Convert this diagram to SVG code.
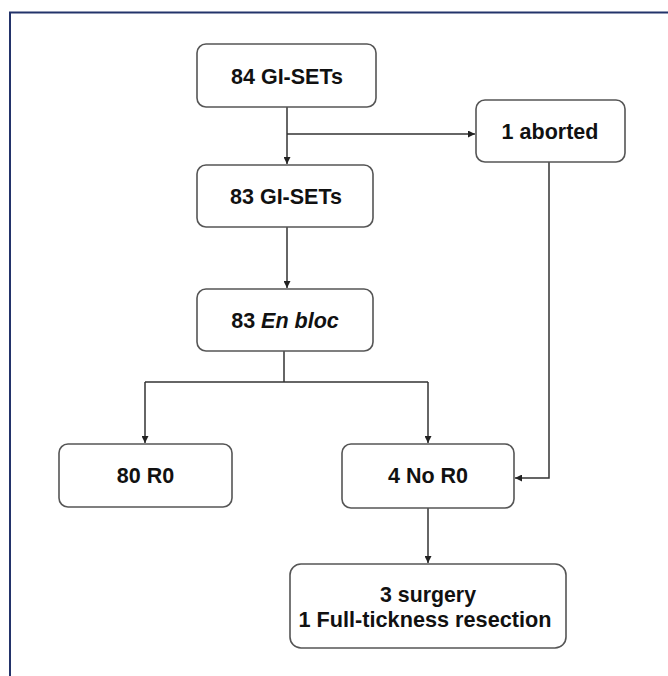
<svg xmlns="http://www.w3.org/2000/svg" width="668" height="676" viewBox="0 0 668 676">
<style>
.box{fill:#fff;stroke:#555;stroke-width:1.6}
.t{font-family:"Liberation Sans",Arial,sans-serif;font-weight:bold;font-size:21.5px;fill:#111;text-anchor:middle}
.c{fill:none;stroke:#333;stroke-width:1.5}
</style>
<defs>
<marker id="ah" viewBox="0 0 10 10" refX="10" refY="5" markerWidth="7" markerHeight="7" markerUnits="userSpaceOnUse" orient="auto">
<path d="M0,0 L10,5 L0,10 z" fill="#222"/>
</marker>
</defs>
<rect width="668" height="676" fill="#fff"/>
<path d="M10,680 V12.5 H672" fill="none" stroke="#23336a" stroke-width="2"/>
<g id="connectors">
<path class="c" d="M287,107 V164" marker-end="url(#ah)"/>
<path class="c" d="M287,134 H475" marker-end="url(#ah)"/>
<path class="c" d="M287,227 V288" marker-end="url(#ah)"/>
<path class="c" d="M284,351 V382"/>
<path class="c" d="M145,382 H428"/>
<path class="c" d="M145,382 V443" marker-end="url(#ah)"/>
<path class="c" d="M428,382 V443" marker-end="url(#ah)"/>
<path class="c" d="M549,162 V478 H515" marker-end="url(#ah)"/>
<path class="c" d="M428,508 V563" marker-end="url(#ah)"/>
</g>
<g id="n84">
<rect class="box" x="197" y="44" width="179" height="63" rx="9"/>
<text class="t" x="287" y="84">84 GI-SETs</text>
</g>
<g id="aborted">
<rect class="box" x="476" y="100" width="149" height="62" rx="9"/>
<text class="t" x="550" y="139">1 aborted</text>
</g>
<g id="n83">
<rect class="box" x="197" y="165" width="176" height="62" rx="9"/>
<text class="t" x="286" y="204">83 GI-SETs</text>
</g>
<g id="enbloc">
<rect class="box" x="197" y="289" width="176" height="62" rx="9"/>
<text class="t" x="285" y="328">83 <tspan font-style="italic">En bloc</tspan></text>
</g>
<g id="r0">
<rect class="box" x="59" y="444" width="173" height="63" rx="9"/>
<text class="t" x="145.5" y="483">80 R0</text>
</g>
<g id="nor0">
<rect class="box" x="342" y="444" width="172" height="64" rx="9"/>
<text class="t" x="428" y="483">4 No R0</text>
</g>
<g id="surgery">
<rect class="box" x="290" y="564" width="276" height="84" rx="11"/>
<text class="t" x="428" y="602" font-size="19" textLength="96" lengthAdjust="spacingAndGlyphs">3 surgery</text>
<text class="t" x="425" y="627" font-size="19" textLength="253" lengthAdjust="spacingAndGlyphs">1 Full-tickness resection</text>
</g>
</svg>
